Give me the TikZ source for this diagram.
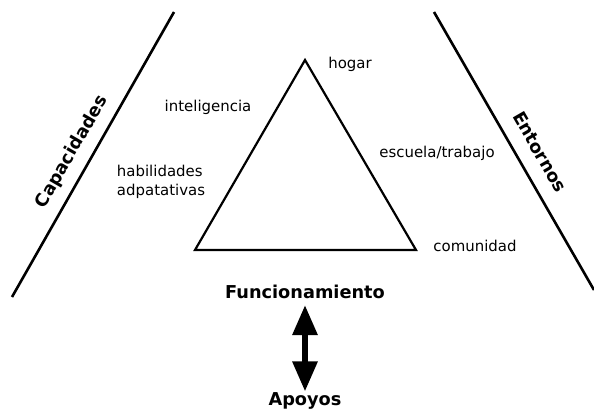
\documentclass[tikz,border=0pt]{standalone}
\usepackage{fontspec}
\setmainfont{DejaVu Sans}
\usetikzlibrary{arrows.meta}
\begin{document}
\begin{tikzpicture}[x=1bp,y=-1bp,
  lbl/.style={font=\fontsize{15}{19}\selectfont, inner sep=0pt},
  big/.style={font=\fontsize{17.8}{20}\selectfont\bfseries, inner sep=0pt},
  side/.style={line width=2.6bp},
  tri/.style={line width=2.2bp, line join=miter}]
\useasboundingbox (0,0) rectangle (594,412);
% side lines
\coordinate (l1) at (174,12);
\coordinate (l2) at (12,297);
\coordinate (r1) at (434,12);
\coordinate (r2) at (594,290);
\draw[side] (l1) -- (l2);
\draw[side] (r1) -- (r2);
% triangle
\coordinate (t1) at (305,60);
\coordinate (t2) at (195,250);
\coordinate (t3) at (416,250);
\draw[tri] (t1) -- (t2) -- (t3) -- cycle;
% labels
\node[lbl] (hogar) at (350,64) {hogar};
\node[lbl] (intel) at (208,107) {inteligencia};
\node[lbl, align=left] (habil) at (161,182) {habilidades\\adpatativas};
\node[lbl] (escuela) at (437,153) {escuela/trabajo};
\node[lbl] (comun) at (475,246) {comunidad};
\node[big, rotate=60] (cap) at (72,152) {Capacidades};
\node[big, rotate=-60] (ent) at (540,152) {Entornos};
\node[big] (func) at (305,292) {Funcionamiento};
\node[big] (apoy) at (305,401) {Apoyos};
\draw[line width=6bp, {Triangle[width=24bp,length=30bp]}-{Triangle[width=24bp,length=30bp]}]
  ([yshift=-6bp]func.south) -- ([yshift=1bp]apoy.north);
\end{tikzpicture}
\end{document}
